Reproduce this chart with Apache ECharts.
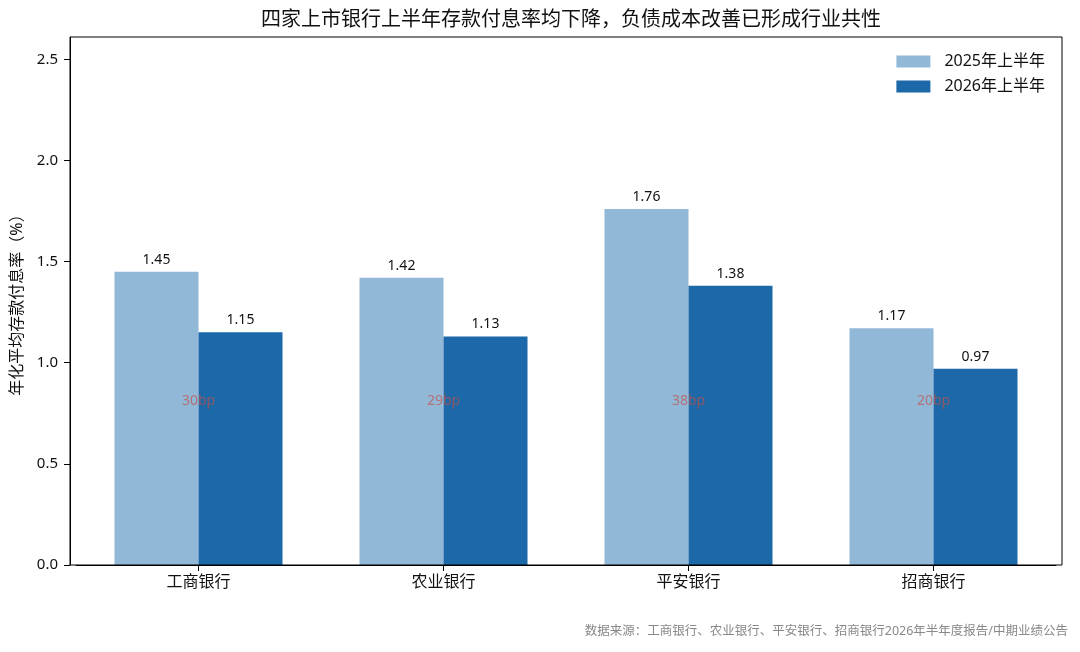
<!DOCTYPE html>
<html>
<head>
<meta charset="utf-8">
<script src="https://cdn.jsdelivr.net/npm/echarts@6/dist/echarts.min.js"></script>
<style>
  html, body { margin: 0; padding: 0; background: #fff; }
  #chart { width: 1080px; height: 652px; }
</style>
</head>
<body>
<div id="chart"></div>
<script>
// 数据
const banks = ['工商银行', '农业银行', '平安银行', '招商银行'];
const rate2025H1 = [1.45, 1.42, 1.76, 1.17];
const rate2026H1 = [1.15, 1.13, 1.38, 0.97];
const bpDrop = [30, 29, 38, 20];
const bpLabelY = [0.81, 0.81, 0.81, 0.81];
const yTicks = [0, 0.5, 1.0, 1.5, 2.0, 2.5];

const FONT = '"Noto Sans", "Noto Sans CJK SC", sans-serif';

const chart = echarts.init(document.getElementById('chart'));

const valueLabel = {
    show: true,
    position: 'top',
    distance: 5,
    color: '#111',
    fontSize: 14,
    fontFamily: FONT,
    formatter: (p) => p.value.toFixed(2)
};

chart.setOption({
    animation: false,
    textStyle: { fontFamily: FONT },
    title: {
        text: '四家上市银行上半年存款付息率均下降，负债成本改善已形成行业共性',
        left: 566,
        textAlign: 'center',
        top: 5,
        textStyle: { fontSize: 20, fontWeight: 'normal', color: '#111', fontFamily: FONT }
    },
    legend: {
        data: ['2025年上半年', '2026年上半年'],
        orient: 'vertical',
        right: 30,
        top: 46,
        itemWidth: 34,
        itemHeight: 12,
        itemGap: 4,
        icon: 'rect',
        textStyle: { fontSize: 16, color: '#111', fontFamily: FONT, padding: [0, 0, 0, 9], lineHeight: 21 }
    },
    grid: { left: 76, right: 24, top: 37, bottom: 87, outerBoundsMode: 'none', containLabel: false },
    xAxis: {
        type: 'category',
        data: banks,
        axisLine: { show: true, lineStyle: { color: '#000', width: 1 } },
        axisTick: { show: true, alignWithLabel: true, length: 6, lineStyle: { color: '#000' } },
        axisLabel: { fontSize: 16, color: '#111', margin: 9, fontFamily: FONT }
    },
    yAxis: {
        type: 'value',
        min: 0,
        max: 2.61,
        interval: 0.5,
        offset: 6,
        name: '年化平均存款付息率（%）',
        nameLocation: 'middle',
        nameGap: 45,
        nameTextStyle: { fontSize: 16, color: '#111', fontFamily: FONT },
        axisLine: { show: true, lineStyle: { color: '#000', width: 1 } },
        axisTick: { show: true, length: 6, lineStyle: { color: '#000' } },
        splitLine: { show: false },
        axisLabel: {
            fontSize: 15,
            color: '#111',
            margin: 12,
            showMaxLabel: false,
            formatter: (v) => (yTicks.indexOf(v) >= 0 ? v.toFixed(1) : '')
        }
    },
    graphic: [
        {
            type: 'rect',
            z: 100,
            shape: { x: 70, y: 37, width: 992, height: 528 },
            style: { fill: 'none', stroke: '#000', lineWidth: 1 }
        },
        {
            type: 'text',
            right: 12,
            top: 625,
            style: {
                text: '数据来源：工商银行、农业银行、平安银行、招商银行2026年半年度报告/中期业绩公告',
                fontSize: 12.5,
                fill: '#888',
                fontFamily: FONT
            }
        }
    ],
    series: [
        {
            name: '2025年上半年',
            type: 'bar',
            barWidth: 84,
            barGap: '0%',
            itemStyle: { color: '#92b8d8' },
            label: valueLabel,
            data: rate2025H1
        },
        {
            name: '2026年上半年',
            type: 'bar',
            barWidth: 84,
            barGap: '0%',
            itemStyle: { color: '#1c68a8' },
            label: valueLabel,
            data: rate2026H1
        },
        {
            name: 'bp',
            type: 'scatter',
            symbolSize: 0,
            z: 10,
            label: {
                show: true,
                position: 'inside',
                color: 'rgba(192, 80, 70, 0.85)',
                fontSize: 14,
                fontFamily: FONT,
                formatter: (p) => bpDrop[p.dataIndex] + 'bp'
            },
            data: banks.map((b, i) => [b, bpLabelY[i]])
        }
    ]
});
</script>
</body>
</html>
